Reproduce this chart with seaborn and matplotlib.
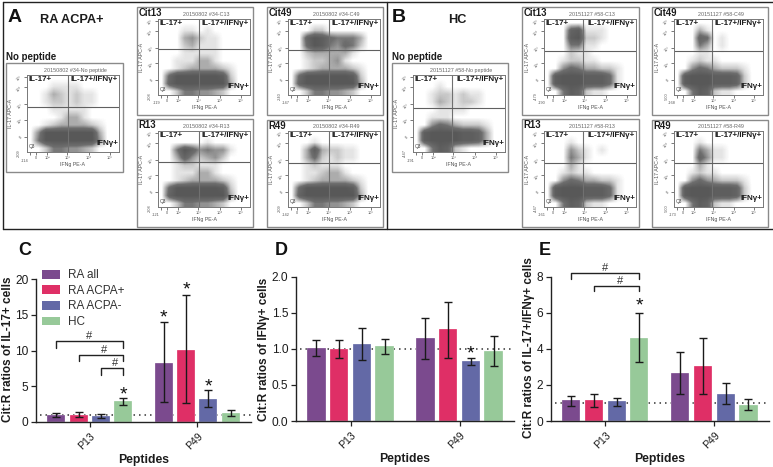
import matplotlib
matplotlib.use("Agg")
import matplotlib.pyplot as plt
from matplotlib.colors import LinearSegmentedColormap
from matplotlib.patches import Rectangle
from matplotlib.lines import Line2D
import numpy as np
import pandas as pd
import seaborn as sns

sns.set_theme(style="white")
plt.rcParams["font.family"] = ["Liberation Sans", "DejaVu Sans"]

W, H = 773, 467

# ---------- bar chart data ----------
groups = ["RA all", "RA ACPA+", "RA ACPA-", "HC"]
peptides = ["P13", "P49"]
colors = ["#7B4A8E", "#DF2F66", "#6369A6", "#97C999"]

c_vals = [0.95, 1.0, 0.85, 2.85, 8.3, 10.1, 3.2, 1.2]
c_low = [0.7, 0.6, 0.55, 2.4, 2.8, 2.6, 2.1, 0.85]
c_high = [1.2, 1.35, 1.05, 3.3, 14.0, 17.8, 4.5, 1.6]

d_vals = [1.01, 1.0, 1.07, 1.04, 1.15, 1.27, 0.83, 0.97]
d_low = [0.9, 0.87, 0.85, 0.93, 0.86, 0.88, 0.78, 0.76]
d_high = [1.12, 1.12, 1.29, 1.14, 1.43, 1.65, 0.88, 1.18]

e_vals = [1.15, 1.15, 1.1, 4.6, 2.65, 3.05, 1.5, 0.9]
e_low = [0.85, 0.8, 0.85, 3.25, 1.5, 1.5, 0.95, 0.6]
e_high = [1.4, 1.5, 1.3, 6.0, 3.8, 4.6, 2.1, 1.2]

# ---------- flow cytometry density estimates (0 = empty, 9 = densest) ----------
a_none = ["000000000000", "000111100000", "001321211000", "001221211000", "000111110000",
          "000013310000", "001233332100", "049999999300", "059999999400", "002554432000"]
a_cit13 = ["000000000000", "000110100000", "000342110000", "000231110000", "000111110000",
           "001113310000", "001233332100", "069999998200", "079999999300", "002554432000"]
a_cit49 = ["000000000000", "000220000000", "007986555300", "006985465200", "002333331000",
           "001223410000", "001233332100", "069999998200", "079999999300", "002554432000"]
a_r13 = ["000000000000", "000000100000", "005974544100", "003742342000", "001221110000",
         "001113310000", "001233332100", "069999998200", "079999999300", "002554432000"]
a_r49 = ["000000000000", "000100000000", "003832211000", "003621211000", "001211100000",
         "001123310000", "001233332100", "069999998200", "079999999300", "002554432000"]
b_none = ["000000000000", "000100000000", "001221211000", "001321221000", "000111100000",
          "001110000000", "004653222100", "089999887300", "089999887300", "005872100000"]
b_cit13 = ["000000000000", "000781110000", "000892210000", "000551100000", "000211000000",
           "001221100000", "004653322100", "089998886100", "089998886100", "005872110000"]
b_cit49 = ["000000000000", "000310000000", "000760100000", "000530100000", "000110000000",
           "001211000000", "004653222100", "089998887200", "089998887200", "005872110000"]
b_r13 = ["000000000000", "000100000000", "000421010000", "000531000000", "000310000000",
         "001211000000", "004653322100", "089998886100", "089998886100", "005872110000"]
b_r49 = ["000000000000", "000100000000", "000531100000", "000741100000", "000310000000",
         "001211000000", "004643222100", "089998887200", "089998887200", "005872110000"]

flow_xticks = [0.03, 0.1, 0.22, 0.44, 0.67, 0.9]
flow_xticklabels = ["", "0", "10²", "10³", "10⁴", "10⁵"]
flow_yticks = [0.2, 0.42, 0.62, 0.84, 0.98]
flow_yticklabels = ["0", "10²", "10³", "10⁴", "10⁵"]

panels = [
    ((27, 75, 119, 152), (6, 63, 123, 172), 68, 107, a_none, "", "20150802 #34-No peptide", "-114", "-209"),
    ((158, 19, 250, 95), (137, 7, 253, 115), 199, 49, a_cit13, "Cit13", "20150802 #34-C13", "-119", "-208"),
    ((288, 19, 380, 95), (267, 7, 383, 115), 329, 50, a_cit49, "Cit49", "20150802 #34-C49", "-147", "-240"),
    ((158, 131, 250, 207), (137, 119, 253, 227), 199, 162, a_r13, "R13", "20150802 #34-R13", "-121", "-208"),
    ((288, 131, 380, 207), (267, 120, 383, 227), 329, 163, a_r49, "R49", "20150802 #34-R49", "-142", "-209"),
    ((413, 75, 505, 152), (392, 63, 508, 172), 452, 108, b_none, "", "20151127 #58-No peptide", "-191", "-447"),
    ((544, 19, 636, 95), (522, 7, 639, 115), 583, 51, b_cit13, "Cit13", "20151127 #58-C13", "-190", "-479"),
    ((674, 19, 763, 95), (652, 7, 768, 115), 712, 51, b_cit49, "Cit49", "20151127 #58-C49", "-168", "-500"),
    ((544, 131, 636, 207), (522, 119, 639, 227), 583, 163, b_r13, "R13", "20151127 #58-R13", "-161", "-447"),
    ((674, 131, 763, 207), (652, 120, 768, 227), 712, 163, b_r49, "R49", "20151127 #58-R49", "-173", "-500"),
]

fig = plt.figure(figsize=(W / 100, H / 100), dpi=100)


def fx(x):
    return x / W


def fy(y):
    return 1 - y / H


def px_axes(left, top, right, bottom):
    return fig.add_axes([fx(left), fy(bottom), (right - left) / W, (bottom - top) / H])


def ftext(x, y, s, **kw):
    fig.text(fx(x), fy(y), s, **kw)


cmap = LinearSegmentedColormap.from_list(
    "flow", [(0, "#ffffff"), (0.12, "#e2e2e2"), (0.35, "#a8a8a8"), (0.6, "#6e6e6e"), (1, "#585858")], N=128)
TXT = "#1c1c1c"

# outer frames
for xs, ys in [((2.5, 2.5), (2, 229)), ((2.5, 773), (229, 229)), ((2.5, 773), (1.5, 1.5)), ((387, 387), (2, 229))]:
    fig.add_artist(Line2D([fx(v) for v in xs], [fy(v) for v in ys], color="#222222", lw=1.0))

for plot, box, vg, hg, grid, name, sub, xmin, ymin in panels:
    l, t, r, b = plot
    fig.add_artist(Rectangle((fx(box[0]), fy(box[3])), (box[2] - box[0]) / W, (box[3] - box[1]) / H,
                             transform=fig.transFigure, fill=False, ec="#8a8a8a", lw=1.0))
    ax = px_axes(l, t, r, b)
    dens = np.array([[int(ch) for ch in row] for row in grid], dtype=float)
    ax.imshow(dens, extent=(0, 1, 0, 1), aspect="auto", cmap=cmap, vmin=0, vmax=9, interpolation="bilinear")
    ax.axvline((vg - l) / (r - l), color="#707070", lw=0.8)
    ax.axhline(1 - (hg - t) / (b - t), color="#606060", lw=0.8)
    for s in ax.spines.values():
        s.set_color("#777777")
        s.set_linewidth(0.7)
    ax.set_xlim(0, 1)
    ax.set_ylim(0, 1)
    ax.set_xticks(flow_xticks)
    ax.set_xticklabels(flow_xticklabels, fontsize=2.8, color="#555555")
    ax.set_yticks(flow_yticks)
    ax.set_yticklabels(flow_yticklabels, fontsize=2.8, color="#555555", rotation=45)
    ax.tick_params(length=2, width=0.5, pad=0.8, color="#444444", bottom=True, left=True)
    ax.set_xlabel("IFNg PE-A", fontsize=3.8, color="#555555", labelpad=1.5)
    ax.set_ylabel("IL-17 APC-A", fontsize=3.8, color="#555555", labelpad=2)
    ax.text(0.02, 0.985, "IL-17+", transform=ax.transAxes, fontsize=5.8, fontweight="bold",
            color=TXT, va="top", ha="left")
    ax.text(0.99, 0.985, "IL-17+/IFNγ+", transform=ax.transAxes, fontsize=5.8, fontweight="bold",
            color=TXT, va="top", ha="right")
    ax.text(0.99, 0.06, "IFNγ+", transform=ax.transAxes, fontsize=5.8, fontweight="bold",
            color=TXT, va="bottom", ha="right")
    ax.text(0.02, 0.04, "Q3", transform=ax.transAxes, fontsize=3.5, color="#444444", va="bottom")
    ax.text(-0.02, -0.085, xmin, transform=ax.transAxes, fontsize=2.8, color="#555555", va="top", ha="center")
    ax.text(-0.085, -0.02, ymin, transform=ax.transAxes, fontsize=2.8, color="#555555", va="center", ha="center", rotation=90)
    ftext((l + r) / 2 + 2, t - 2.5, sub, fontsize=3.9, color="#666666", ha="center", va="bottom")
    if name:
        ftext(box[0] + 1.5, box[1] + 1, name, fontsize=6.9, fontweight="bold", color=TXT, ha="left", va="top")

ftext(6, 57, "No peptide", fontsize=7, fontweight="bold", color=TXT, va="center")
ftext(392, 57, "No peptide", fontsize=7, fontweight="bold", color=TXT, va="center")
ftext(8, 17, "A", fontsize=14, fontweight="bold", color="#111111", va="center")
ftext(40, 20, "RA ACPA+", fontsize=9.2, fontweight="bold", color=TXT, va="center")
ftext(392, 17, "B", fontsize=14, fontweight="bold", color="#111111", va="center")
ftext(448, 20, "HC", fontsize=9.2, fontweight="bold", color=TXT, va="center")
ftext(18, 251, "C", fontsize=13, fontweight="bold", color="#111111", va="center")
ftext(275, 251, "D", fontsize=13, fontweight="bold", color="#111111", va="center")
ftext(539, 251, "E", fontsize=13, fontweight="bold", color="#111111", va="center")


# ---------- bar panels ----------
def bar_panel(rect, vals, low, high, ymax, yticks, yticklabels, ylabel, ylabel_x, ylabel_y):
    ax = px_axes(*rect)
    df = pd.DataFrame({
        "Peptides": [p for p in peptides for _ in groups],
        "group": groups * len(peptides),
        "value": vals,
    })
    ax.axhline(1, color="#333333", lw=1.1, ls=(0, (1, 2.6)), zorder=0, xmin=0.02)
    sns.barplot(data=df, x="Peptides", y="value", hue="group", hue_order=groups, order=peptides,
                palette=colors, errorbar=None, width=0.832, gap=0.2, saturation=1,
                ax=ax, legend=False, zorder=2)
    centers = {}
    for g, cont in zip(groups, ax.containers):
        for p, bar in zip(peptides, cont):
            bar.set_edgecolor("#ffffff")
            bar.set_linewidth(0.2)
            centers[(p, g)] = bar.get_x() + bar.get_width() / 2
    xs = [centers[(p, g)] for p in peptides for g in groups]
    v, lo, hi = np.array(vals), np.array(low), np.array(high)
    ax.errorbar(xs, v, yerr=[v - lo, hi - v], fmt="none", ecolor="#1a1a1a", elinewidth=1.0,
                capsize=3.0, capthick=1.0, zorder=4)
    ax.set_xlim(-0.5, 1.5)
    ax.set_ylim(0, ymax)
    ax.set_yticks(yticks)
    ax.set_yticklabels(yticklabels, fontsize=8.6, color=TXT)
    ax.set_xticks([0, 1])
    ax.set_xticklabels(peptides, fontsize=7.6, color=TXT, rotation=45, ha="right", rotation_mode="anchor")
    ax.tick_params(axis="both", length=3.5, width=0.9, color="#222222", bottom=True, left=True, pad=2)
    ax.tick_params(axis="x", pad=3)
    sns.despine(ax=ax)
    for s in ("left", "bottom"):
        ax.spines[s].set_color("#222222")
        ax.spines[s].set_linewidth(1.0)
    ax.set_xlabel("Peptides", fontsize=8.8, fontweight="bold", color=TXT, labelpad=2)
    ax.set_ylabel("")
    fig.text(fx(ylabel_x), fy(ylabel_y), ylabel, rotation=90, fontsize=8.5,
             fontweight="bold", color=TXT, va="center", ha="center")
    ax.patch.set_alpha(0)
    return ax, xs


def bracket(ax, x0, x1, y, drop, label, label_x):
    ax.plot([x0, x0, x1, x1], [y - drop, y, y, y - drop], color="#222222", lw=1.0, clip_on=False, zorder=5)
    ax.text(label_x, y, label, fontsize=8, color="#333333", ha="center", va="bottom", clip_on=False)


def star(ax, x, y):
    ax.text(x, y, "*", fontsize=14, color="#111111", ha="center", va="center", clip_on=False, zorder=6)


ax_c, xc = bar_panel((36, 279.3, 251, 421.7), c_vals, c_low, c_high, 20,
                     [0, 5, 10, 15, 20], ["0", "5", "10", "15", "20"],
                     "Cit:R ratios of IL-17+ cells", 8.5, 349)
bracket(ax_c, xc[0], xc[3], 11.3, 0.9, "#", xc[1] + 0.10)
bracket(ax_c, xc[1], xc[3], 9.4, 0.9, "#", xc[2] + 0.03)
bracket(ax_c, xc[2], xc[3], 7.5, 0.9, "#", (xc[2] + xc[3]) / 2 + 0.03)
star(ax_c, xc[3], 3.7)
star(ax_c, xc[4], 14.6)
star(ax_c, xc[5], 18.5)
star(ax_c, xc[6], 4.9)

ax_d, xd = bar_panel((296, 276.7, 514, 421), d_vals, d_low, d_high, 2,
                     [0, 0.5, 1, 1.5, 2], ["0.0", "0.5", "1.0", "1.5", "2.0"],
                     "Cit:R ratios of IFNγ+ cells", 263.5, 349)
star(ax_d, xd[6], 0.93)

ax_e, xe = bar_panel((550.7, 276.7, 769, 421), e_vals, e_low, e_high, 8,
                     [0, 2, 4, 6, 8], ["0", "2", "4", "6", "8"],
                     "Cit:R ratios of IL-17+/IFNγ+ cells", 529, 348)
bracket(ax_e, xe[0], xe[3], 8.2, 0.3, "#", xe[1] + 0.10)
bracket(ax_e, xe[1], xe[3], 7.5, 0.3, "#", xe[2] + 0.03)
star(ax_e, xe[3], 6.35)

handles = [Rectangle((0, 0), 1, 1, fc=c, ec="none") for c in colors]
ax_c.legend(handles, groups, loc="upper left", bbox_to_anchor=(0.028, 1.07), frameon=False, fontsize=8.5,
            handlelength=1.5, handleheight=0.75, labelspacing=0.3, handletextpad=0.7, borderpad=0,
            borderaxespad=0, labelcolor="#333333")

fig.savefig("out.png", dpi=100)
